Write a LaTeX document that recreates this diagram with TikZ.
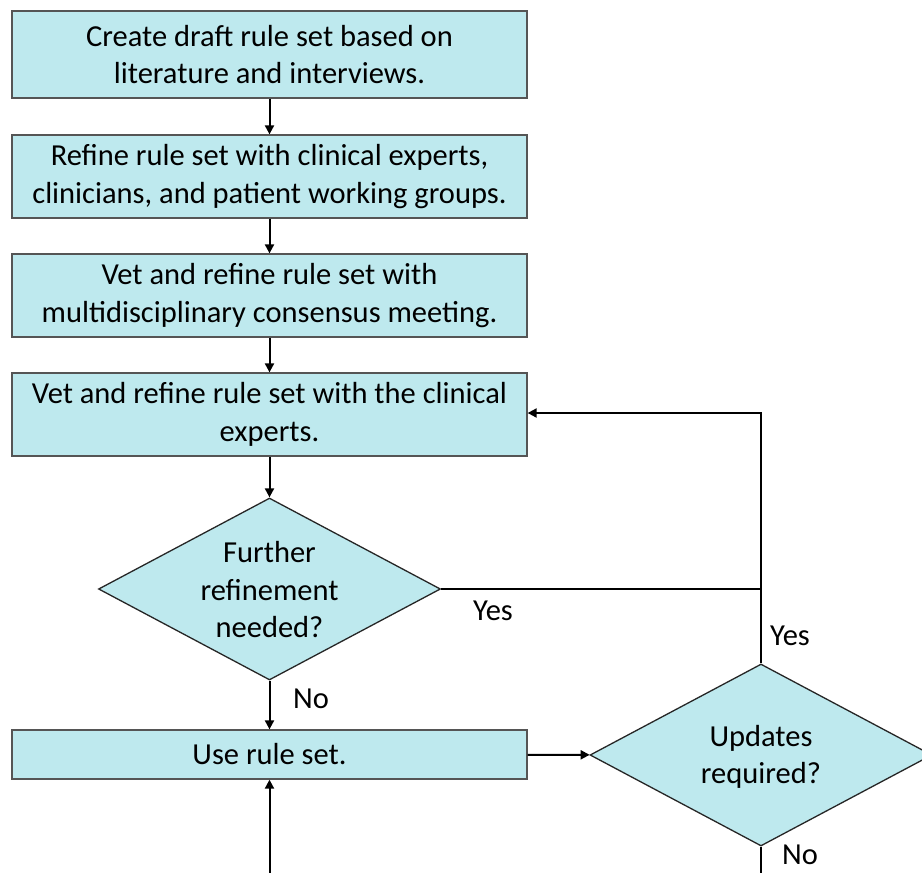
\documentclass[tikz,border=0pt]{standalone}
\usepackage{fontspec}
\setmainfont{Carlito}
\usetikzlibrary{shapes.geometric,arrows.meta}
\definecolor{boxfill}{RGB}{190,233,238}
\definecolor{boxline}{RGB}{85,85,85}
\tikzset{
  stepbox/.style={draw=boxline, line width=1.3pt, fill=boxfill, minimum width=515pt, inner sep=0pt, align=center, font=\fontsize{30.5}{37.5}\selectfont},
  decision/.style={diamond, draw=black!85, line width=1.3pt, fill=boxfill, minimum width=342pt, minimum height=182pt, inner sep=0pt, aspect=1.88},
  dtext/.style={align=center, font=\fontsize{30.5}{37.5}\selectfont},
  lbl/.style={font=\fontsize{30.5}{36}\selectfont, inner sep=0pt},
  conn/.style={line width=2pt, draw=black},
  arr/.style={conn, -{Triangle[length=9pt,width=9pt]}},
}
\begin{document}
\begin{tikzpicture}[x=1pt,y=-1pt]
\clip (0,0) rectangle (922,873);
\fill[white] (0,0) rectangle (922,873);
\node[stepbox, minimum height=87pt] (b1) at (269.5,54.5) {Create draft rule set based on\\literature and interviews.};
\node[stepbox, minimum height=83pt] (b2) at (269.5,176.5) {Refine rule set with clinical experts,\\clinicians, and patient working groups.};
\node[stepbox, minimum height=83pt] (b3) at (269.5,295.5) {Vet and refine rule set with\\multidisciplinary consensus meeting.};
\node[stepbox, minimum height=83pt] (b4) at (269.5,414.5) {Vet and refine rule set with the clinical\\experts.};
\node[decision] (d1) at (269.5,589) {};
\node[dtext] (d1t) at (269.5,590) {Further\\refinement\\needed?};
\node[stepbox, minimum height=49pt] (b5) at (269.5,754.5) {Use rule set.};
\node[decision] (d2) at (761,755) {};
\node[dtext] (d2t) at (761,757) {Updates\\required?};
\coordinate (j) at (761,589);
\coordinate (k) at (761,413);
\coordinate (bin) at (269.5,890);
\coordinate (dout) at (761,890);
\draw[arr] (b1) -- (b2);
\draw[arr] (b2) -- (b3);
\draw[arr] (b3) -- (b4);
\draw[arr] (b4) -- (d1);
\draw[arr] (d1) -- (b5);
\draw[conn] (d1.east) -- (j);
\draw[arr] (d2.north) -- (k) -- (b4.east |- k);
\draw[arr] (b5) -- (d2);
\draw[arr] (bin) -- (b5);
\draw[conn] (d2.south) -- (dout);
\node[lbl] (l1) at (311,699) {No};
\node[lbl] (l2) at (493,611) {Yes};
\node[lbl] (l3) at (790,636) {Yes};
\node[lbl] (l4) at (800,855) {No};
\end{tikzpicture}
\end{document}
